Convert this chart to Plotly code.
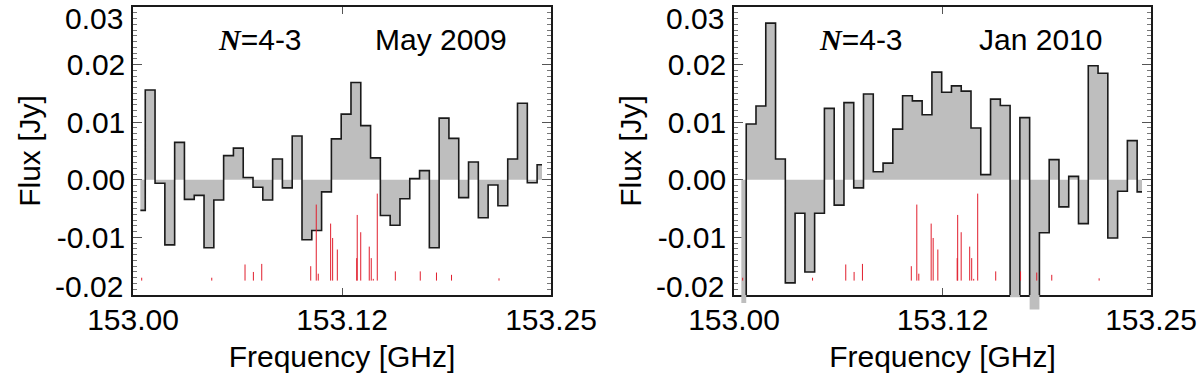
import numpy as np
import plotly.graph_objects as go

# channel grid of the spectra (GHz)
freq_start = 153.0044
chan_width = 0.005859
n_chan = 42
freq = freq_start + chan_width * np.arange(n_chan)

flux_may2009 = [
    -0.0053, 0.0156, -0.0006, -0.0113, 0.0065, -0.0034, -0.0027, -0.0118, -0.0035, 0.0042,
    0.0055, 0.0004, -0.0013, -0.0035, 0.0036, -0.0014, 0.0076, -0.0104, -0.0088, -0.0021,
    0.0071, 0.0114, 0.0169, 0.0094, 0.0038, -0.0062, -0.0079, -0.0033, 0.0002, 0.0016,
    -0.0118, 0.0107, 0.0072, -0.0031, 0.0031, -0.0066, -0.0009, -0.0045, 0.0036, 0.0133,
    -0.0005, 0.0026,
]
flux_jan2010 = [
    -0.0214, 0.0097, 0.0128, 0.0272, 0.0036, -0.0179, -0.0058, -0.0160, -0.0058, 0.0124,
    -0.0044, 0.0134, -0.0014, 0.0149, 0.0014, 0.0029, 0.0088, 0.0146, 0.0137, 0.0113,
    0.0187, 0.0152, 0.0163, 0.0154, 0.0090, 0.0009, 0.0140, 0.0129, -0.0204, 0.0108,
    -0.0225, -0.0092, 0.0035, -0.0047, 0.0006, -0.0076, 0.0198, 0.0185, -0.0101, -0.0020,
    0.0068, -0.0021,
]

# hyperfine line positions (GHz) and the top of each marker (Jy)
line_freq = [
    153.0052, 153.0471, 153.0670, 153.0720, 153.0770, 153.1063, 153.1096, 153.1108,
    153.1182, 153.1194, 153.1222, 153.1338, 153.1341, 153.1362, 153.1413, 153.1425,
    153.1437, 153.1461, 153.1569, 153.1718, 153.1815, 153.1905, 153.2189,
]
line_top = [
    -0.0170, -0.0170, -0.0147, -0.0160, -0.0146, -0.0150, -0.0043, -0.0163,
    -0.0076, -0.0101, -0.0121, -0.0136, -0.0061, -0.0091, -0.0116, -0.0136,
    -0.0172, -0.0024, -0.0159, -0.0159, -0.0161, -0.0165, -0.0171,
]
line_base = -0.0175

panels = [
    ("May 2009", flux_may2009),
    ("Jan 2010", flux_jan2010),
]

y_range = [-0.02, 0.03]
y_ticks = [-0.02, -0.01, 0.0, 0.01, 0.02, 0.03]
y_ticktext = ["-0.02", "-0.01", "0.00", "0.01", "0.02", "0.03"]
x_range = [153.0, 153.25]
x_ticks = [153.0, 153.125, 153.25]
x_ticktext = ["153.00", "153.12", "153.25"]

FONT = "Liberation Sans, Arial, Helvetica, sans-serif"
FS = 30

# geometry: frame is 288 px tall, extra 25 px below lets the fill overshoot the frame
top_m, bot_m = 7, 60
plot_h = 380 - top_m - bot_m
extra = 25
d0 = extra / plot_h
ext_lo = y_range[0] - (y_range[1] - y_range[0]) * extra / (plot_h - extra)

x_domains = [[0.0, 418 / 1018], [601 / 1018, 1.0]]

# red marker segments
seg_x, seg_y = [], []
for f, t in zip(line_freq, line_top):
    seg_x += [f, f, None]
    seg_y += [line_base, t, None]

fig = go.Figure()

for i, (label, flux) in enumerate(panels):
    xa = "x" if i == 0 else "x2"
    ya_main = "y" if i == 0 else "y2"
    ya_fill = "y3" if i == 0 else "y5"
    ya_line = "y4" if i == 0 else "y6"

    # gray filled histogram (allowed to spill below the frame)
    fig.add_trace(go.Scatter(
        x=freq, y=flux, mode="lines", line_shape="hvh",
        line=dict(width=0, color="rgb(190,190,190)"),
        fill="tozeroy", fillcolor="rgb(190,190,190)",
        xaxis=xa, yaxis=ya_fill, showlegend=False, hoverinfo="skip",
    ))
    # black outline, clipped at the frame
    fig.add_trace(go.Scatter(
        x=freq, y=flux, mode="lines", line_shape="hvh",
        line=dict(width=1.6, color="#1a1a1a"),
        xaxis=xa, yaxis=ya_line, showlegend=False,
    ))
    # red line markers
    fig.add_trace(go.Scatter(
        x=seg_x, y=seg_y, mode="lines",
        line=dict(width=1, color="rgb(225,30,45)"),
        xaxis=xa, yaxis=ya_line, showlegend=False,
    ))

    fig.add_annotation(
        x=153.076, y=0.0243, xref=xa, yref=ya_main,
        text="<span style='font-family:Liberation Serif, Times New Roman, serif'><b><i>N</i></b></span>=4-3",
        showarrow=False, font=dict(family=FONT, size=FS, color="black"),
    )
    fig.add_annotation(
        x=153.184, y=0.0243, xref=xa, yref=ya_main,
        text=label, showarrow=False,
        font=dict(family=FONT, size=FS, color="black"),
    )
    # edge tick labels sit a little inside the frame, as in the original
    for val, shift in ((y_ticks[-1], -11), (y_ticks[0], 8)):
        fig.add_annotation(
            x=0, xref=f"{xa} domain", y=val, yref=ya_main,
            text=y_ticktext[y_ticks.index(val)], showarrow=False,
            xanchor="right", yanchor="middle", xshift=-8, yshift=shift,
            font=dict(family=FONT, size=FS, color="black"),
        )

axis_common = dict(
    showline=True, linecolor="#1a1a1a", linewidth=1.5, mirror="ticks",
    showgrid=False, zeroline=False, ticks="inside", tickcolor="#555",
    automargin=False,
    tickfont=dict(family=FONT, size=FS, color="black"),
)

inner_text = [""] + y_ticktext[1:-1] + [""]

layout_axes = {}
for i in range(2):
    xname = "xaxis" if i == 0 else "xaxis2"
    ymain = "yaxis" if i == 0 else "yaxis2"
    yfill = "yaxis3" if i == 0 else "yaxis5"
    yline = "yaxis4" if i == 0 else "yaxis6"
    xa = "x" if i == 0 else "x2"
    layout_axes[xname] = dict(
        axis_common, domain=x_domains[i], range=x_range, anchor="y" if i == 0 else "y2",
        tickvals=x_ticks, ticktext=x_ticktext, ticklen=7, ticklabelstandoff=-3,
        title=dict(text="Frequency [GHz]", font=dict(family=FONT, size=FS, color="black"), standoff=11),
    )
    layout_axes[ymain] = dict(
        axis_common, domain=[d0, 1.0], range=[y_range[0] - 1e-5, y_range[1] + 1e-5], anchor=xa,
        tickvals=y_ticks, ticktext=inner_text, ticklen=9, ticklabelstandoff=0,
        minor=dict(ticks="inside", ticklen=4, dtick=0.001, tick0=0, tickcolor="#777", showgrid=False),
        title=dict(text="Flux [Jy]", font=dict(family=FONT, size=FS, color="black"), standoff=7),
    )
    layout_axes[yfill] = dict(domain=[0.0, 1.0], range=[ext_lo, y_range[1]], anchor=xa,
                              visible=False, automargin=False)
    layout_axes[yline] = dict(domain=[d0, 1.0], range=y_range, anchor=xa,
                              visible=False, automargin=False)

fig.update_layout(
    width=1200, height=380,
    margin=dict(l=133, r=49, t=top_m, b=bot_m),
    paper_bgcolor="white", plot_bgcolor="rgba(0,0,0,0)",
    font=dict(family=FONT, size=FS, color="black"),
    showlegend=False,
    **layout_axes,
)

fig.write_html(
    "out.html",
    config={"displayModeBar": False},
    post_script="document.body.style.margin='0';",
)
